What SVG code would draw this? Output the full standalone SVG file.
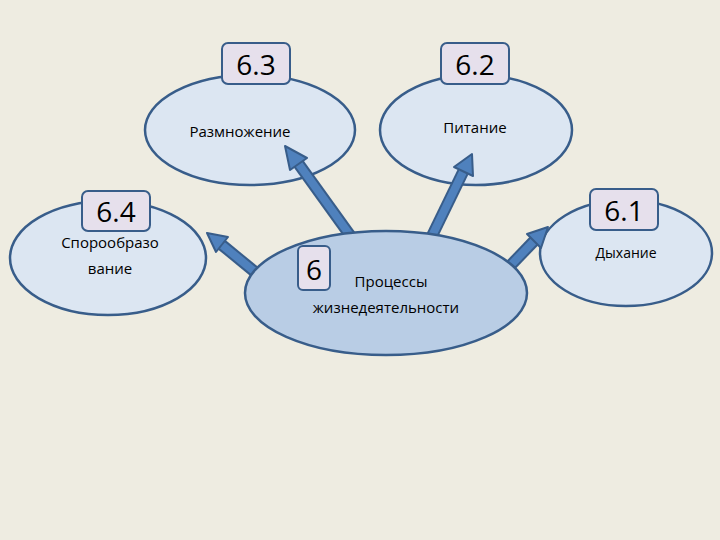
<svg xmlns="http://www.w3.org/2000/svg" width="720" height="540" viewBox="0 0 720 540">
<style>
.el{fill:#dce6f2;stroke:#385d8a;stroke-width:2.5}
.box{fill:#e6e0ec;stroke:#385d8a;stroke-width:2}
.num{font-family:"Open Sans","Liberation Sans",sans-serif;font-size:28px;fill:#000;text-anchor:middle}
.lbl{font-family:"Open Sans","Liberation Sans",sans-serif;font-size:15px;fill:#000;text-anchor:middle}
.ao{stroke:#385d8a;stroke-width:12}
.ai{stroke:#4f81bd;stroke-width:8}
.hd{fill:#4f81bd;stroke:#385d8a;stroke-width:2;stroke-linejoin:round}
</style>
<rect width="720" height="540" fill="#eeece1"/>
<g id="n63"><ellipse class="el" cx="250" cy="130" rx="105" ry="55"/><rect class="box" x="222" y="43" width="68" height="41" rx="6"/><text class="num" x="256" y="75">6.3</text><text class="lbl" x="240" y="137">Размножение</text></g>
<g id="n62"><ellipse class="el" cx="476" cy="130" rx="96" ry="55"/><rect class="box" x="441" y="43" width="68" height="41" rx="6"/><text class="num" x="475" y="75">6.2</text><text class="lbl" x="475" y="133">Питание</text></g>
<g id="n64"><ellipse class="el" cx="108" cy="258" rx="98" ry="57"/><rect class="box" x="82" y="191" width="68" height="40" rx="6"/><text class="num" x="116" y="222">6.4</text><text class="lbl" x="110" y="248">Спорообразо</text><text class="lbl" x="110" y="274">вание</text></g>
<g id="n61"><ellipse class="el" cx="626" cy="253" rx="86" ry="53"/><rect class="box" x="590" y="189" width="68" height="41" rx="6"/><text class="num" x="624" y="221">6.1</text><text class="lbl" x="626" y="258" style="font-size:14px">Дыхание</text></g>
<g id="connectors">
<line class="ao" x1="352" y1="238" x2="298" y2="163"/><line class="ai" x1="352" y1="238" x2="298" y2="163"/>
<polygon class="hd" points="285,146 307,158 290,170"/>
<line class="ao" x1="430" y1="240" x2="463" y2="172"/><line class="ai" x1="430" y1="240" x2="463" y2="172"/>
<polygon class="hd" points="472,154 473,176 454,167"/>
<line class="ao" x1="255" y1="272" x2="222" y2="245"/><line class="ai" x1="255" y1="272" x2="222" y2="245"/>
<polygon class="hd" points="207,233 228,237 216,252"/>
<line class="ao" x1="508" y1="268" x2="534" y2="241"/><line class="ai" x1="508" y1="268" x2="534" y2="241"/>
<polygon class="hd" points="548,227 541,248 527,234"/>
</g>
<g id="n6"><ellipse cx="386" cy="293" rx="141" ry="62" fill="#b9cde5" stroke="#385d8a" stroke-width="2.5"/><rect class="box" x="298" y="246" width="32" height="44" rx="5"/><text class="num" x="314" y="280">6</text><text class="lbl" x="391" y="287">Процессы</text><text class="lbl" x="386" y="313">жизнедеятельности</text></g>
</svg>
